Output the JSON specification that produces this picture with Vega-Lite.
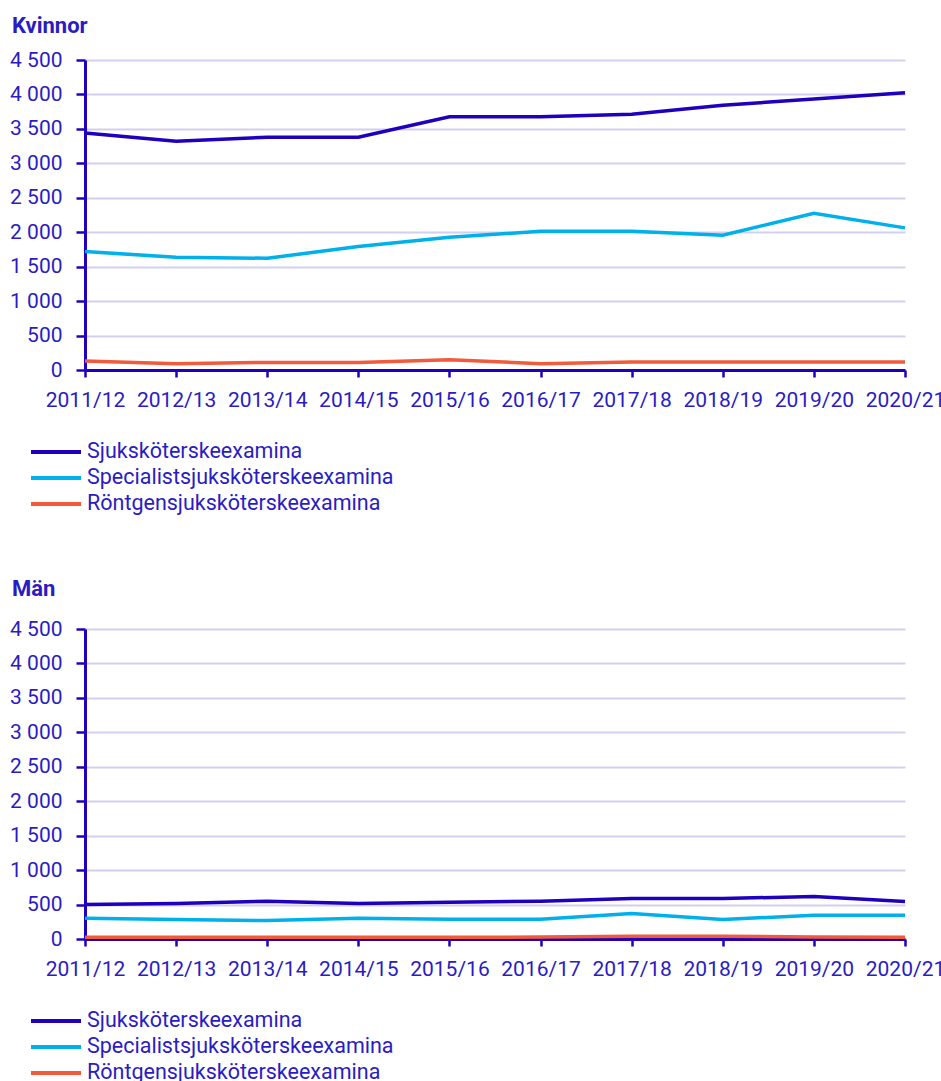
{
  "$schema": "https://vega.github.io/schema/vega-lite/v6.json",
  "background": "white",
  "padding": {"left": 9, "top": 15, "right": 0, "bottom": 0},
  "config": {
    "font": "Roboto",
    "view": {"stroke": null},
    "concat": {"spacing": 61},
    "axis": {
      "labelFont": "Roboto",
      "labelFontSize": 21,
      "labelColor": "#2a1cc2",
      "domainColor": "#1e00be",
      "domainWidth": 3,
      "tickColor": "#1e00be",
      "tickWidth": 2.5,
      "tickSize": 8,
      "gridColor": "#d2d0f1",
      "gridWidth": 2,
      "title": null
    },
    "title": {
      "font": "Roboto",
      "fontSize": 22,
      "fontWeight": "bold",
      "color": "#2a1cc2",
      "anchor": "start",
      "frame": "group",
      "dx": -73,
      "offset": 11
    },
    "legend": {
      "labelFont": "Roboto",
      "labelFontSize": 21.5,
      "labelColor": "#2a1cc2",
      "labelLimit": 0,
      "symbolType": "stroke",
      "symbolSize": 2500,
      "symbolStrokeWidth": 4,
      "clipHeight": 26,
      "padding": 0,
      "labelOffset": 4,
      "rowPadding": 0,
      "orient": "none",
      "direction": "vertical",
      "legendX": -56,
      "legendY": 379
    }
  },
  "datasets": {
    "kvinnor": [
      {"ar": "2011/12", "serie": "Sjuksköterskeexamina", "antal": 3440},
      {"ar": "2012/13", "serie": "Sjuksköterskeexamina", "antal": 3320},
      {"ar": "2013/14", "serie": "Sjuksköterskeexamina", "antal": 3378},
      {"ar": "2014/15", "serie": "Sjuksköterskeexamina", "antal": 3378},
      {"ar": "2015/16", "serie": "Sjuksköterskeexamina", "antal": 3677},
      {"ar": "2016/17", "serie": "Sjuksköterskeexamina", "antal": 3677},
      {"ar": "2017/18", "serie": "Sjuksköterskeexamina", "antal": 3711},
      {"ar": "2018/19", "serie": "Sjuksköterskeexamina", "antal": 3842},
      {"ar": "2019/20", "serie": "Sjuksköterskeexamina", "antal": 3934},
      {"ar": "2020/21", "serie": "Sjuksköterskeexamina", "antal": 4025},
      {"ar": "2011/12", "serie": "Specialistsjuksköterskeexamina", "antal": 1719},
      {"ar": "2012/13", "serie": "Specialistsjuksköterskeexamina", "antal": 1636},
      {"ar": "2013/14", "serie": "Specialistsjuksköterskeexamina", "antal": 1622},
      {"ar": "2014/15", "serie": "Specialistsjuksköterskeexamina", "antal": 1792},
      {"ar": "2015/16", "serie": "Specialistsjuksköterskeexamina", "antal": 1927},
      {"ar": "2016/17", "serie": "Specialistsjuksköterskeexamina", "antal": 2014},
      {"ar": "2017/18", "serie": "Specialistsjuksköterskeexamina", "antal": 2014},
      {"ar": "2018/19", "serie": "Specialistsjuksköterskeexamina", "antal": 1956},
      {"ar": "2019/20", "serie": "Specialistsjuksköterskeexamina", "antal": 2276},
      {"ar": "2020/21", "serie": "Specialistsjuksköterskeexamina", "antal": 2063},
      {"ar": "2011/12", "serie": "Röntgensjuksköterskeexamina", "antal": 131},
      {"ar": "2012/13", "serie": "Röntgensjuksköterskeexamina", "antal": 92},
      {"ar": "2013/14", "serie": "Röntgensjuksköterskeexamina", "antal": 110},
      {"ar": "2014/15", "serie": "Röntgensjuksköterskeexamina", "antal": 110},
      {"ar": "2015/16", "serie": "Röntgensjuksköterskeexamina", "antal": 150},
      {"ar": "2016/17", "serie": "Röntgensjuksköterskeexamina", "antal": 92},
      {"ar": "2017/18", "serie": "Röntgensjuksköterskeexamina", "antal": 116},
      {"ar": "2018/19", "serie": "Röntgensjuksköterskeexamina", "antal": 116},
      {"ar": "2019/20", "serie": "Röntgensjuksköterskeexamina", "antal": 116},
      {"ar": "2020/21", "serie": "Röntgensjuksköterskeexamina", "antal": 116}
    ],
    "man": [
      {"ar": "2011/12", "serie": "Sjuksköterskeexamina", "antal": 501},
      {"ar": "2012/13", "serie": "Sjuksköterskeexamina", "antal": 515},
      {"ar": "2013/14", "serie": "Sjuksköterskeexamina", "antal": 549},
      {"ar": "2014/15", "serie": "Sjuksköterskeexamina", "antal": 515},
      {"ar": "2015/16", "serie": "Sjuksköterskeexamina", "antal": 534},
      {"ar": "2016/17", "serie": "Sjuksköterskeexamina", "antal": 549},
      {"ar": "2017/18", "serie": "Sjuksköterskeexamina", "antal": 588},
      {"ar": "2018/19", "serie": "Sjuksköterskeexamina", "antal": 588},
      {"ar": "2019/20", "serie": "Sjuksköterskeexamina", "antal": 617},
      {"ar": "2020/21", "serie": "Sjuksköterskeexamina", "antal": 545},
      {"ar": "2011/12", "serie": "Specialistsjuksköterskeexamina", "antal": 301},
      {"ar": "2012/13", "serie": "Specialistsjuksköterskeexamina", "antal": 282},
      {"ar": "2013/14", "serie": "Specialistsjuksköterskeexamina", "antal": 268},
      {"ar": "2014/15", "serie": "Specialistsjuksköterskeexamina", "antal": 301},
      {"ar": "2015/16", "serie": "Specialistsjuksköterskeexamina", "antal": 287},
      {"ar": "2016/17", "serie": "Specialistsjuksköterskeexamina", "antal": 287},
      {"ar": "2017/18", "serie": "Specialistsjuksköterskeexamina", "antal": 370},
      {"ar": "2018/19", "serie": "Specialistsjuksköterskeexamina", "antal": 282},
      {"ar": "2019/20", "serie": "Specialistsjuksköterskeexamina", "antal": 345},
      {"ar": "2020/21", "serie": "Specialistsjuksköterskeexamina", "antal": 345},
      {"ar": "2011/12", "serie": "Röntgensjuksköterskeexamina", "antal": 25},
      {"ar": "2012/13", "serie": "Röntgensjuksköterskeexamina", "antal": 25},
      {"ar": "2013/14", "serie": "Röntgensjuksköterskeexamina", "antal": 25},
      {"ar": "2014/15", "serie": "Röntgensjuksköterskeexamina", "antal": 25},
      {"ar": "2015/16", "serie": "Röntgensjuksköterskeexamina", "antal": 25},
      {"ar": "2016/17", "serie": "Röntgensjuksköterskeexamina", "antal": 28},
      {"ar": "2017/18", "serie": "Röntgensjuksköterskeexamina", "antal": 40},
      {"ar": "2018/19", "serie": "Röntgensjuksköterskeexamina", "antal": 40},
      {"ar": "2019/20", "serie": "Röntgensjuksköterskeexamina", "antal": 30},
      {"ar": "2020/21", "serie": "Röntgensjuksköterskeexamina", "antal": 25}
    ]
  },
  "resolve": {"scale": {"color": "independent"}, "legend": {"color": "independent"}},
  "vconcat": [
    {
      "title": {"text": "Kvinnor"},
      "width": 820,
      "height": 310,
      "data": {"name": "kvinnor"},
      "mark": {"type": "line", "strokeWidth": 3.5},
      "encoding": {
        "x": {"field": "ar", "type": "ordinal", "sort": null, "scale": {"type": "point", "padding": 0}, "axis": {"labelAngle": 0, "grid": false, "labelPadding": 12, "labelDx": -6, "tickSize": 7}},
        "y": {"field": "antal", "type": "quantitative", "scale": {"domain": [0, 4500]}, "axis": {"values": [0, 500, 1000, 1500, 2000, 2500, 3000, 3500, 4000, 4500], "labelExpr": "replace(format(datum.value, ','), ',', ' ')", "labelPadding": 14, "tickSize": 9}},
        "color": {"field": "serie", "type": "nominal", "sort": null, "title": null, "scale": {"domain": ["Sjuksköterskeexamina", "Specialistsjuksköterskeexamina", "Röntgensjuksköterskeexamina"], "range": ["#1e00be", "#00b0ea", "#f25a3c"]}}
      }
    },
    {
      "title": {"text": "Män", "offset": 17},
      "width": 820,
      "height": 310,
      "data": {"name": "man"},
      "mark": {"type": "line", "strokeWidth": 3.5},
      "encoding": {
        "x": {"field": "ar", "type": "ordinal", "sort": null, "scale": {"type": "point", "padding": 0}, "axis": {"labelAngle": 0, "grid": false, "labelPadding": 12, "labelDx": -6, "tickSize": 7}},
        "y": {"field": "antal", "type": "quantitative", "scale": {"domain": [0, 4500]}, "axis": {"values": [0, 500, 1000, 1500, 2000, 2500, 3000, 3500, 4000, 4500], "labelExpr": "replace(format(datum.value, ','), ',', ' ')", "labelPadding": 14, "tickSize": 9}},
        "color": {"field": "serie", "type": "nominal", "sort": null, "title": null, "scale": {"domain": ["Sjuksköterskeexamina", "Specialistsjuksköterskeexamina", "Röntgensjuksköterskeexamina"], "range": ["#1e00be", "#00b0ea", "#f25a3c"]}}
      }
    }
  ]
}
